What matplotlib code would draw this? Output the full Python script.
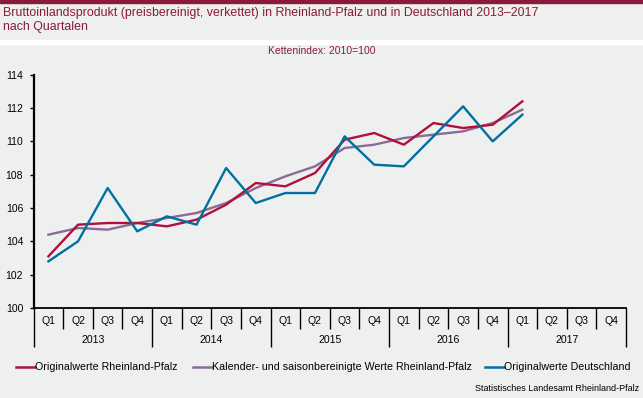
import matplotlib
matplotlib.use('Agg')
import matplotlib.pyplot as plt
from matplotlib.patches import Rectangle

plt.rcParams['font.family'] = ['Liberation Sans', 'DejaVu Sans']

# Daten (Kettenindex 2010=100), Q1 2013 bis Q1 2017
years = ['2013', '2014', '2015', '2016', '2017']
quarters = ['Q1', 'Q2', 'Q3', 'Q4']
rlp_orig = [103.1, 105.0, 105.1, 105.1, 104.9, 105.3, 106.2, 107.5, 107.3, 108.1,
            110.1, 110.5, 109.8, 111.1, 110.8, 111.0, 112.4]
rlp_sa = [104.4, 104.8, 104.7, 105.1, 105.4, 105.7, 106.3, 107.2, 107.9, 108.5,
          109.6, 109.8, 110.2, 110.4, 110.6, 111.1, 111.9]
de_orig = [102.8, 104.0, 107.2, 104.6, 105.5, 105.0, 108.4, 106.3, 106.9, 106.9,
           110.3, 108.6, 108.5, 110.3, 112.1, 110.0, 111.6]
labels = ['Originalwerte Rheinland-Pfalz',
          'Kalender- und saisonbereinigte Werte Rheinland-Pfalz',
          'Originalwerte Deutschland']
colors = ['#B0103D', '#8A6C96', '#0070A0']

W, H = 643, 398
bg = '#EEF0EF'
dark_red = '#8B1A3A'

fig = plt.figure(figsize=(W / 100, H / 100), dpi=100)
fig.patch.set_facecolor(bg)

# Kopfbereich: roter Streifen und weisse Trennlinie
fig.patches.append(Rectangle((0, 1 - 3 / H), 1, 3 / H, transform=fig.transFigure,
                             color=dark_red, zorder=0))
fig.patches.append(Rectangle((0, 1 - 44 / H), 1, 4 / H, transform=fig.transFigure,
                             color='white', zorder=0))
fig.text(3 / W, 1 - 13 / H,
         'Bruttoinlandsprodukt (preisbereinigt, verkettet) in Rheinland-Pfalz und in Deutschland 2013–2017',
         color=dark_red, fontsize=8.9, va='center', ha='left')
fig.text(3 / W, 1 - 27 / H, 'nach Quartalen', color=dark_red, fontsize=8.9,
         va='center', ha='left')
fig.text(322 / W, 1 - 51 / H, 'Kettenindex: 2010=100', color=dark_red, fontsize=7.5,
         va='center', ha='center')

ax_px = (33.6, 308, 626, 74.7)  # left, bottom, right, top in Pixel
ax = fig.add_axes([ax_px[0] / W, 1 - ax_px[1] / H, (ax_px[2] - ax_px[0]) / W,
                   (ax_px[1] - ax_px[3]) / H])
ax.set_facecolor(bg)
ax_h = ax_px[1] - ax_px[3]

x = list(range(len(rlp_orig)))
ax.plot(x, rlp_orig, color=colors[0], lw=1.7, label=labels[0], zorder=3)
ax.plot(x, rlp_sa, color=colors[1], lw=1.7, label=labels[1], zorder=2)
ax.plot(x, de_orig, color=colors[2], lw=1.7, label=labels[2], zorder=4)

ax.set_ylim(100, 114)
ax.set_yticks(range(100, 115, 2))
ax.set_xlim(-0.5, 19.5)

for s in ['top', 'right']:
    ax.spines[s].set_visible(False)
ax.spines['left'].set_linewidth(1.6)
ax.spines['bottom'].set_linewidth(1.3)
ax.tick_params(axis='y', direction='out', length=3, width=1, pad=4.5, labelsize=7.5)

# Quartals- und Jahresgliederung unter der Achse
n_q = len(years) * len(quarters)
ax.set_xticks([i - 0.5 for i in range(0, n_q + 1, 4)])
ax.set_xticks([i - 0.5 for i in range(n_q + 1) if i % 4], minor=True)
ax.set_xticklabels([])
ax.tick_params(axis='x', which='major', direction='out', length=39 * 0.72, width=1)
ax.tick_params(axis='x', which='minor', direction='out', length=21 * 0.72, width=1)

for i in range(n_q):
    ax.text(i, -13 / ax_h, quarters[i % 4], transform=ax.get_xaxis_transform(),
            ha='center', va='center', fontsize=7.6)
for j, yr in enumerate(years):
    ax.text(j * 4 + 1.5, -32 / ax_h, yr, transform=ax.get_xaxis_transform(),
            ha='center', va='center', fontsize=7.6)

leg_x = [15.7, 192.7, 484.7]
for k in range(3):
    fig.lines.append(plt.Line2D([leg_x[k] / W, (leg_x[k] + 19) / W],
                                [1 - 366.5 / H] * 2, color=colors[k], lw=1.8,
                                transform=fig.transFigure))
    fig.text((leg_x[k] + 19) / W, 1 - 366.5 / H, labels[k], fontsize=7.7,
             va='center', ha='left')

fig.text(639 / W, 1 - 388.5 / H, 'Statistisches Landesamt Rheinland-Pfalz',
         fontsize=6.5, va='center', ha='right')

plt.savefig('out.png', dpi=100, facecolor=bg)
